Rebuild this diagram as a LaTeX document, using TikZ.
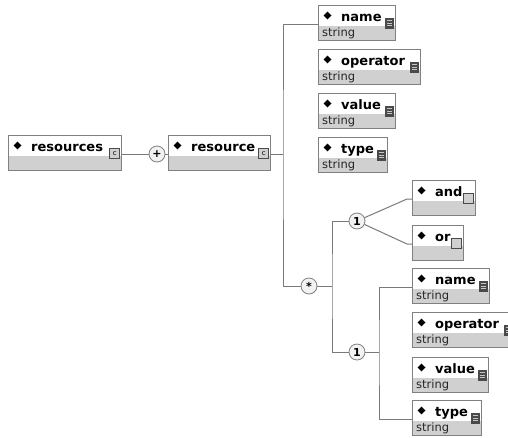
\documentclass[tikz,border=0pt]{standalone}
\usepackage{fontspec}
\setsansfont{DejaVu Sans}

\definecolor{boxgray}{HTML}{808080}
\definecolor{barfill}{HTML}{D0D0D0}
\definecolor{linegray}{HTML}{7A7A7A}
\definecolor{icondark}{HTML}{4A4A4A}
\definecolor{circfill}{HTML}{F2F2F2}

\tikzset{
    elembox/.style={draw=boxgray, line width=1pt, fill=white, minimum height=35pt, inner sep=0pt, outer sep=0pt, anchor=north west},
    headtext/.style={font=\sffamily\bfseries\fontsize{13}{15}\selectfont, inner sep=0pt, anchor=base west},
    subtext/.style={font=\sffamily\fontsize{11.5}{13}\selectfont, text=black!85, inner sep=0pt, anchor=base west},
    strico/.style={draw=icondark, fill=icondark, line width=0.6pt, minimum width=8pt, minimum height=10pt, inner sep=0pt,
        path picture={\foreach \k in {2.5,5,7.5}
            \draw[gray!45, line width=0.7pt] ([shift={(1.3pt,-\k pt)}]path picture bounding box.north west) -- ++(5.4pt,0);}},
    cpxico/.style={draw=icondark, fill=barfill, line width=0.6pt, minimum size=10pt, inner sep=0pt,
        font=\sffamily\fontsize{7}{7}\selectfont},
    anyico/.style={draw=icondark, fill=barfill, line width=0.6pt, minimum size=10pt, inner sep=0pt},
    compo/.style={circle, draw=boxgray, fill=circfill, line width=0.8pt, minimum size=16pt, inner sep=0pt,
        font=\sffamily\bfseries\fontsize{11}{11}\selectfont},
    conn/.style={draw=linegray, line width=1pt}
}

% element box: name, x, y, width, label, type text, icon style
\newcommand{\elem}[7]{%
    \node[elembox, minimum width=#4pt] (#1) at (#2,#3) {};
    \fill[barfill] ([shift={(0.5pt,0.5pt)}]#1.south west) rectangle ([shift={(-0.5pt,14pt)}]#1.south east);
    \fill[black] ([shift={(9.5pt,-10.5pt)}]#1.north west) +(-4pt,0) -- +(0,3.8pt) -- +(4pt,0) -- +(0,-3.8pt) -- cycle;
    \node[headtext] (#1-lbl) at ([shift={(23pt,-16pt)}]#1.north west) {#5};
    \node[subtext] (#1-typ) at ([shift={(4pt,-31pt)}]#1.north west) {#6};
    \node[#7, anchor=north east] (#1-ico) at ([shift={(-1pt,-13pt)}]#1.north east) {};
    \coordinate (#1-in) at ([yshift=-19pt]#1.north west);
    \coordinate (#1-out) at ([yshift=-19pt]#1.north east);
}

\begin{document}
\begin{tikzpicture}[x=1pt, y=-1pt]
        \path[fill=white, use as bounding box] (0,0) rectangle (508,437);

        % root and its child
        \elem{resources}{8}{135}{113}{resources}{}{cpxico}
        \node[cpxico] at (resources-ico) {c};
        \elem{resource}{168}{135}{102}{resource}{}{cpxico}
        \node[cpxico] at (resource-ico) {c};

        % first sequence
        \elem{name1}{318}{5}{77}{name}{string}{strico}
        \elem{operator1}{318}{49}{102}{operator}{string}{strico}
        \elem{value1}{318}{93}{77}{value}{string}{strico}
        \elem{type1}{318}{137}{69}{type}{string}{strico}

        % choice of and / or
        \elem{and}{412}{180}{63}{and}{}{anyico}
        \elem{or}{412}{225}{51}{or}{}{anyico}

        % second sequence
        \elem{name2}{412}{268}{77}{name}{string}{strico}
        \elem{operator2}{412}{312}{102}{operator}{string}{strico}
        \elem{value2}{412}{357}{76}{value}{string}{strico}
        \elem{type2}{412}{400}{69}{type}{string}{strico}

        % compositors
        \node[compo] (plus) at (157,154) {+};
        \node[compo] (star) at (309,286) {*};
        \node[compo] (one1) at (357,221) {1};
        \node[compo] (one2) at (357,352) {1};

        \coordinate (seq1) at (283,154);
        \coordinate (ch) at (332,286);
        \coordinate (seq2) at (379,352);

        %draw connectors
        \draw[conn] (resources-out) -- (plus);
        \draw[conn] (plus) -- (resource-in);
        \draw[conn] (resource-out) -- (seq1);
        \draw[conn] (name1-in) -| (seq1) |- (star);
        \draw[conn] (star) -- (ch);
        \draw[conn] (one1) -| (ch) |- (one2);
        \draw[conn] (one1) -- ([xshift=-5pt]and-in) -- (and-in);
        \draw[conn] (one1) -- ([xshift=-5pt]or-in) -- (or-in);
        \draw[conn] (one2) -- (seq2);
        \draw[conn] (name2-in) -| (seq2) |- (type2-in);
\end{tikzpicture}
\end{document}
